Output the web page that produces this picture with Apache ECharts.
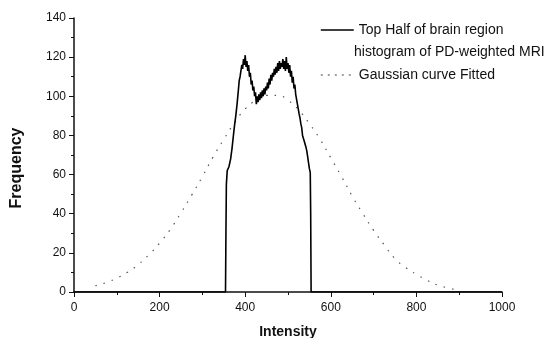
<!DOCTYPE html>
<html>
<head>
<meta charset="utf-8">
<script src="https://cdn.jsdelivr.net/npm/echarts@6/dist/echarts.min.js"></script>
<style>
  html, body { margin: 0; padding: 0; background: #fff; }
  #chart { width: 548px; height: 338px; }
</style>
</head>
<body>
<div id="chart"></div>
<script>
// histogram of the top half of the brain region
const histIntensity = [0, 354, 355, 356, 358, 362, 366, 369, 372, 375, 378, 381, 384, 386, 388, 390, 392, 394, 396, 398,
  400, 402, 404, 406, 408, 410, 412, 414, 416, 418, 420, 422, 424, 426, 428, 430, 432, 434, 436, 438,
  440, 442, 444, 446, 448, 450, 452, 454, 456, 458, 460, 462, 464, 466, 468, 470, 472, 474, 476, 478,
  480, 482, 484, 486, 488, 490, 492, 494, 496, 498, 500, 502, 504, 506, 508, 510, 512, 514, 516, 518,
  520, 522, 524, 526, 528, 530, 532, 534, 536, 538, 540, 542, 544, 546, 548, 550, 552, 553, 554, 1000];
const histFreq = [0, 0, 30, 55, 62, 64, 68, 73, 79, 85, 90, 96, 103, 108, 110, 113, 116, 114, 119, 116,
  121, 115, 118, 113, 116, 110, 112, 106, 108, 103, 105, 100, 102, 96, 100, 97, 101, 98, 102, 99,
  103, 100, 104, 101, 105, 103, 107, 104, 109, 106, 111, 108, 112, 110, 114, 111, 115, 112, 117, 113,
  118, 114, 117, 115, 119, 114, 118, 113, 120, 114, 117, 112, 116, 110, 113, 107, 110, 104, 106, 101,
  100, 96, 95, 91, 89, 86, 84, 80, 79, 77, 76, 74, 72, 69, 66, 63, 61, 40, 0, 0];

// fitted gaussian (dotted curve)
const gaussIntensity = [50, 75, 100, 125, 150, 175, 200, 225, 250, 275, 300, 325, 350, 375, 400, 425, 450, 475,
  500, 525, 550, 575, 600, 625, 650, 675, 700, 725, 750, 775, 800, 825, 850, 875, 900];
const gaussFreq = [3.2, 4.8, 7.1, 10.1, 14, 19, 25, 32, 40.5, 49.5, 59, 69, 78, 86.5, 93.5, 98, 100.5, 100.5,
  98, 93, 86, 78, 68.5, 59, 49, 40, 31.5, 24, 17, 12.5, 9, 6, 3.5, 2, 0.8];

const xTicks = [0, 200, 400, 600, 800, 1000];
const yTicks = [0, 20, 40, 60, 80, 100, 120, 140];

const zip = (xs, ys) => xs.map((x, i) => [x, ys[i]]);

const chart = echarts.init(document.getElementById("chart"), null, { renderer: "canvas" });

const labelFont = { color: "#111", fontFamily: "Liberation Sans", fontSize: 12 };

chart.setOption({
  animation: false,
  backgroundColor: "#fff",
  grid: { left: 74, right: 46, top: 18, bottom: 46, containLabel: false, outerBoundsMode: "none" },
  legend: {
    orient: "vertical",
    left: 320,
    top: 22,
    padding: 0,
    itemWidth: 33,
    itemHeight: 14,
    itemGap: 29,
    itemStyle: { opacity: 0 },
    textStyle: { color: "#111", fontFamily: "Liberation Sans", fontSize: 14, lineHeight: 16 },
    data: [
      { name: "Top Half of brain region", itemStyle: { opacity: 0 }, lineStyle: { color: "#000", width: 1.6 } },
      { name: "Gaussian curve Fitted", itemStyle: { opacity: 0 }, lineStyle: { color: "#444", width: 1.2, type: [2, 5] } }
    ]
  },
  graphic: [
    {
      type: "text",
      left: 354,
      top: 45,
      style: { text: "histogram of PD-weighted MRI", fill: "#111", font: "14px 'Liberation Sans'" }
    }
  ],
  xAxis: {
    type: "value",
    min: 0,
    max: 1000,
    interval: 200,
    name: "Intensity",
    nameLocation: "middle",
    nameGap: 33,
    nameTextStyle: { color: "#111", fontFamily: "Liberation Sans", fontSize: 14, fontWeight: "bold" },
    axisLine: { lineStyle: { color: "#111", width: 1.5 } },
    axisTick: { length: 5, lineStyle: { color: "#111" } },
    minorTick: { show: true, splitNumber: 2, length: 3, lineStyle: { color: "#111" } },
    splitLine: { show: false },
    axisLabel: Object.assign({ margin: 10, formatter: v => xTicks.includes(v) ? String(v) : "" }, labelFont)
  },
  yAxis: {
    type: "value",
    min: 0,
    max: 140,
    interval: 20,
    name: "Frequency",
    nameLocation: "middle",
    nameGap: 49,
    nameTextStyle: { color: "#111", fontFamily: "Liberation Sans", fontSize: 16, fontWeight: "bold", padding: [0, 26, 0, 0] },
    axisLine: { show: true, lineStyle: { color: "#111", width: 1.5 } },
    axisTick: { show: true, length: 5, lineStyle: { color: "#111" } },
    minorTick: { show: true, splitNumber: 2, length: 3, lineStyle: { color: "#111" } },
    splitLine: { show: false },
    axisLabel: Object.assign({ margin: 8, formatter: v => yTicks.includes(v) ? String(v) : "" }, labelFont)
  },
  series: [
    {
      name: "Top Half of brain region",
      type: "line",
      showSymbol: false,
      symbol: "none",
      data: zip(histIntensity, histFreq),
      lineStyle: { color: "#000", width: 1.6 },
      itemStyle: { color: "#000" },
      z: 3
    },
    {
      name: "Gaussian curve Fitted",
      type: "line",
      showSymbol: false,
      symbol: "none",
      smooth: true,
      data: zip(gaussIntensity, gaussFreq),
      lineStyle: { color: "#555", width: 1.2, type: [1.5, 7] },
      itemStyle: { color: "#555" },
      z: 2
    }
  ]
});
</script>
</body>
</html>
